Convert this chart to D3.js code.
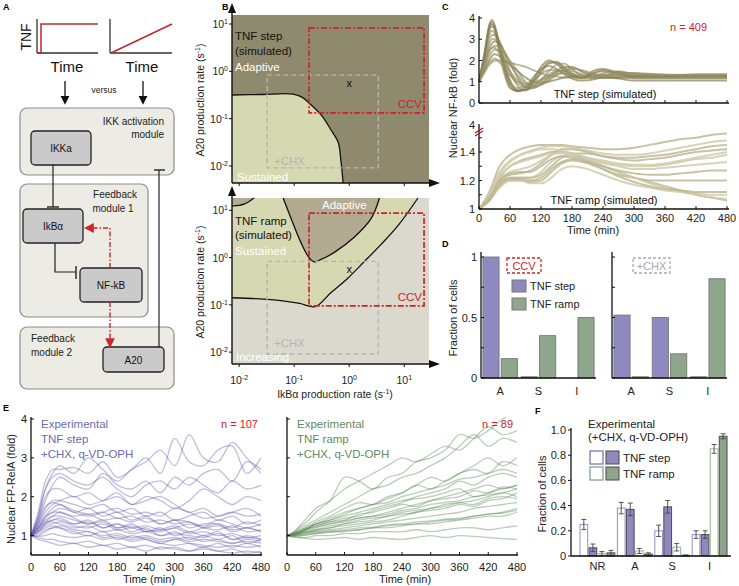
<!DOCTYPE html>
<html><head><meta charset="utf-8">
<script src="https://cdn.jsdelivr.net/npm/d3@7"></script>
<style>body{margin:0;background:#fff} svg{display:block} text{font-family:"Liberation Sans",Arial,sans-serif}</style>
</head><body><svg id="c" width="739" height="586"></svg>
<script>
// ================= DATA =================
// Panel A: TNF input profiles (normalised time, normalised dose)
const tnfStepT = [0, 0.05, 0.05, 1];
const tnfStepV = [0, 0, 1, 1];
const tnfRampT = [0, 1];
const tnfRampV = [0, 1];

// Panel B: phase-diagram boundaries, [log10 IkBa rate, log10 A20 rate]
const bTickExp = [-2, -1, 0, 1];
const stepBoundary = [[-2.13,-0.50],[-1.6,-0.49],[-1.02,-0.48],[-0.85,-0.55],[-0.73,-0.67],[-0.51,-0.92],[-0.33,-1.24],[-0.2,-1.5],[-0.15,-1.9],[-0.11,-2.36]];
const rampLower = [[-2.13,-0.85],[-1.7,-0.87],[-1.24,-0.91],[-0.9,-0.97],[-0.62,-1.04],[-0.33,-0.74],[-0.02,-0.43],[0.27,-0.09],[0.58,0.28],[0.89,0.68],[1.25,1.26]];
const rampAdaptiveV = [[-1.2,1.26],[-1.02,0.72],[-0.87,0.30],[-0.73,0.0],[-0.64,-0.09],[-0.51,-0.04],[-0.27,0.11],[0.09,0.43],[0.4,0.83],[0.55,1.26]];
const rampAdaptiveCorner = [[-2.13,1.09],[-1.91,1.13],[-1.73,1.26]];
const ccvStepX = [-0.73, 1.36], ccvStepY = [-0.88, 0.92];
const ccvRampX = [-0.73, 1.36], ccvRampY = [-1.02, 0.94];
const chxX = [-1.49, 0.53], chxY = [-2.04, -0.08];
const markX = [0, -0.24];

// Panel C: simulated nuclear NF-kB (fold)
const tStepSim = [0,10,20,25,30,40,50,60,75,90,105,120,135,150,165,180,200,220,240,270,300,360,420,480];
const stepSim = [
 [1.0,2.3,3.7,3.9,3.7,2.6,1.5,0.8,0.55,0.65,1.1,1.7,2.0,1.85,1.5,1.25,1.2,1.5,1.6,1.4,1.3,1.3,1.35,1.35],
 [1.0,2.1,3.4,3.6,3.5,2.8,1.9,1.1,0.6,0.6,0.9,1.4,1.85,1.95,1.7,1.4,1.2,1.4,1.55,1.45,1.3,1.3,1.35,1.35],
 [1.0,1.9,3.0,3.2,3.2,2.9,2.2,1.5,0.8,0.6,0.75,1.1,1.5,1.8,1.85,1.6,1.3,1.25,1.4,1.5,1.35,1.3,1.3,1.3],
 [1.0,1.7,2.6,2.8,2.9,2.8,2.4,1.9,1.2,0.75,0.7,0.9,1.2,1.5,1.7,1.7,1.45,1.3,1.3,1.45,1.4,1.3,1.3,1.3],
 [1.0,1.6,2.2,2.4,2.5,2.5,2.3,2.0,1.5,1.0,0.8,0.85,1.05,1.3,1.5,1.6,1.55,1.4,1.3,1.35,1.4,1.35,1.3,1.3],
 [1.0,1.4,1.8,1.9,2.0,2.0,1.95,1.9,1.8,1.7,1.55,1.4,1.3,1.25,1.2,1.2,1.2,1.2,1.2,1.2,1.2,1.2,1.2,1.2],
 [1.0,1.5,2.0,2.2,2.3,2.2,2.0,1.8,1.5,1.2,1.0,0.95,1.0,1.1,1.2,1.25,1.25,1.2,1.2,1.2,1.2,1.2,1.2,1.2],
 [1.0,2.0,3.2,3.4,3.3,2.5,1.6,1.0,0.7,0.8,1.05,1.35,1.55,1.55,1.4,1.25,1.15,1.2,1.3,1.25,1.15,1.15,1.15,1.15],
 [1.0,1.8,2.8,3.0,3.0,2.6,2.0,1.4,0.9,0.75,0.85,1.1,1.35,1.5,1.5,1.4,1.25,1.2,1.25,1.3,1.2,1.2,1.2,1.2],
 [1.0,2.2,3.6,3.8,3.5,2.3,1.3,0.7,0.55,0.75,1.2,1.6,1.75,1.6,1.35,1.15,1.05,1.1,1.2,1.15,1.05,1.05,1.05,1.05],
 [1.0,1.8,2.5,2.6,2.6,2.3,1.9,1.5,1.05,0.8,0.8,1.0,1.25,1.45,1.55,1.5,1.35,1.25,1.3,1.4,1.35,1.3,1.3,1.3],
 [1.0,1.5,1.9,2.0,2.1,1.9,1.6,1.3,1.0,0.9,0.95,1.1,1.25,1.35,1.4,1.35,1.25,1.2,1.25,1.3,1.25,1.25,1.25,1.25],
 [1.0,2.15,3.5,3.7,3.6,2.7,1.7,0.95,0.6,0.62,1.0,1.5,1.9,1.9,1.6,1.3,1.18,1.38,1.5,1.38,1.25,1.25,1.28,1.28],
 [1.0,1.65,2.4,2.6,2.7,2.6,2.3,1.8,1.3,0.9,0.75,0.85,1.1,1.4,1.6,1.65,1.5,1.35,1.3,1.4,1.38,1.32,1.32,1.32]
];
const tRampSim = [0,20,40,60,80,100,120,140,160,180,210,240,270,300,330,360,390,420,450,480];
const rampSim = [
 [1.0,1.12,1.3,1.38,1.42,1.44,1.45,1.45,1.45,1.44,1.43,1.42,1.42,1.43,1.45,1.47,1.49,1.5,1.52,1.53],
 [1.0,1.1,1.25,1.33,1.38,1.41,1.43,1.44,1.44,1.43,1.41,1.39,1.38,1.38,1.39,1.41,1.43,1.45,1.47,1.48],
 [1.0,1.08,1.2,1.24,1.25,1.27,1.32,1.38,1.42,1.42,1.4,1.37,1.35,1.34,1.35,1.36,1.38,1.4,1.41,1.42],
 [1.0,1.07,1.18,1.22,1.22,1.22,1.26,1.33,1.37,1.37,1.35,1.32,1.3,1.28,1.28,1.29,1.3,1.31,1.32,1.33],
 [1.0,1.06,1.16,1.2,1.2,1.19,1.2,1.26,1.32,1.34,1.32,1.28,1.24,1.22,1.2,1.2,1.2,1.2,1.2,1.2],
 [1.0,1.06,1.15,1.2,1.2,1.18,1.18,1.22,1.28,1.3,1.28,1.24,1.2,1.17,1.15,1.13,1.12,1.11,1.1,1.1],
 [1.0,1.09,1.22,1.3,1.34,1.36,1.38,1.4,1.4,1.38,1.34,1.3,1.26,1.22,1.19,1.16,1.13,1.1,1.08,1.06],
 [1.0,1.1,1.26,1.34,1.38,1.4,1.42,1.42,1.41,1.39,1.35,1.3,1.26,1.22,1.18,1.15,1.12,1.1,1.08,1.07],
 [1.0,1.07,1.19,1.22,1.22,1.22,1.24,1.3,1.36,1.39,1.39,1.37,1.36,1.36,1.37,1.38,1.4,1.42,1.44,1.45],
 [1.0,1.08,1.21,1.26,1.28,1.3,1.34,1.38,1.4,1.39,1.36,1.33,1.31,1.3,1.3,1.31,1.33,1.35,1.36,1.38],
 [1.0,1.06,1.17,1.21,1.21,1.2,1.22,1.28,1.33,1.35,1.33,1.3,1.27,1.25,1.24,1.24,1.25,1.26,1.27,1.27],
 [1.0,1.09,1.23,1.3,1.33,1.35,1.37,1.39,1.39,1.38,1.36,1.34,1.32,1.31,1.31,1.32,1.34,1.36,1.38,1.4],
 [1.0,1.08,1.2,1.25,1.26,1.26,1.3,1.35,1.37,1.36,1.33,1.28,1.23,1.19,1.16,1.14,1.13,1.12,1.12,1.12]
];

// Panel D: simulated fraction of cells
const dCats = ["A", "S", "I"];
const ccvStep = [1.0, 0.01, 0.0];
const ccvRamp = [0.16, 0.35, 0.5];
const chxStep = [0.52, 0.5, 0.01];
const chxRamp = [0.01, 0.2, 0.82];

// Panel E: experimental nuclear FP-RelA (fold)
const tExp = [0,15,30,45,60,90,120,150,180,210,240,270,300,330,360,390,420,450,480];
const expStep = [
 [1,1.6,2.4,2.7,2.7,2.75,2.6,2.9,2.5,2.7,3.0,2.6,3.5,2.9,2.8,3.2,3.3,2.6,3.0],
 [1,1.5,2.2,2.6,2.8,2.6,3.0,2.7,2.4,2.7,2.9,3.2,2.8,3.6,3.0,2.9,3.4,3.0,2.6],
 [1,1.4,1.9,2.3,2.5,2.3,2.2,2.6,2.3,2.2,2.4,2.1,2.5,2.3,2.6,2.7,2.4,2.9,2.7],
 [1,1.3,1.7,1.9,1.9,1.8,1.7,1.8,1.6,1.7,1.5,1.6,1.4,1.5,1.6,1.4,1.5,1.3,1.4],
 [1,1.2,1.5,1.7,1.8,1.6,1.7,1.5,1.6,1.4,1.5,1.3,1.4,1.2,1.3,1.3,1.1,1.2,1.1],
 [1,1.2,1.4,1.5,1.5,1.4,1.3,1.4,1.2,1.3,1.1,1.2,1.0,1.1,1.0,1.1,0.9,1.0,0.9],
 [1,1.1,1.3,1.4,1.4,1.3,1.4,1.2,1.3,1.1,1.2,1.0,1.1,0.9,1.0,0.9,1.0,0.8,0.9],
 [1,1.0,1.1,1.2,1.2,1.1,1.0,1.1,0.9,1.0,0.9,0.8,0.9,0.8,0.7,0.8,0.7,0.8,0.7],
 [1,0.95,0.9,0.9,0.85,0.8,0.85,0.75,0.8,0.7,0.75,0.65,0.7,0.6,0.65,0.6,0.55,0.6,0.55],
 [1,1.1,1.25,1.3,1.35,1.25,1.2,1.3,1.15,1.2,1.1,1.15,1.25,1.1,1.2,1.3,1.2,1.35,1.25],
 [1,1.3,1.6,1.8,1.9,2.0,1.8,1.9,2.1,1.8,2.0,1.9,1.7,1.9,2.2,2.0,1.8,2.0,1.9],
 [1,1.15,1.35,1.5,1.6,1.5,1.55,1.4,1.45,1.35,1.45,1.3,1.4,1.35,1.25,1.4,1.3,1.2,1.3],
 [1,1.05,1.15,1.2,1.25,1.15,1.1,1.0,1.05,0.95,1.0,0.9,0.95,0.85,0.9,0.85,0.8,0.85,0.8],
 [1,1.4,2.0,2.2,2.2,2.0,2.1,1.9,2.0,1.8,1.9,2.0,1.8,1.6,1.7,1.5,1.6,1.7,1.5],
 [1,1.2,1.45,1.6,1.7,1.6,1.5,1.6,1.7,1.55,1.6,1.5,1.7,1.6,1.45,1.5,1.6,1.5,1.55],
 [1,0.98,1.0,1.05,1.0,0.95,1.0,0.9,0.95,0.85,0.9,0.8,0.75,0.8,0.75,0.7,0.75,0.7,0.75],
 [1,1.25,1.5,1.6,1.6,1.45,1.3,1.35,1.2,1.25,1.15,1.1,1.2,1.05,1.1,1.0,1.05,0.95,1.0],
 [1,1.15,1.3,1.35,1.3,1.2,1.25,1.1,1.15,1.05,1.1,1.0,1.05,1.0,0.95,1.05,0.9,0.95,0.9],
 [1,1.35,1.75,1.85,1.8,1.65,1.55,1.6,1.45,1.5,1.35,1.4,1.3,1.35,1.2,1.25,1.15,1.2,1.1],
 [1,1.1,1.2,1.25,1.2,1.05,1.1,0.95,1.0,0.9,0.95,0.85,0.9,0.95,0.85,0.9,0.8,0.9,0.85],
 [1,1.5,2.2,2.5,2.6,2.4,2.3,2.5,2.2,2.0,2.3,2.4,2.2,2.5,2.3,2.1,2.4,2.2,2.3],
 [1,0.9,0.85,0.8,0.75,0.8,0.7,0.75,0.65,0.7,0.6,0.7,0.65,0.6,0.7,0.6,0.65,0.55,0.6],
 [1,1.2,1.35,1.4,1.45,1.3,1.35,1.2,1.3,1.2,1.25,1.15,1.2,1.3,1.2,1.15,1.25,1.1,1.15]
];
const expRamp = [
 [1,1.1,1.25,1.4,1.6,1.9,2.5,2.4,2.2,2.5,2.6,2.9,3.0,3.2,3.6,3.5,3.7,4.0,4.2],
 [1,1.08,1.2,1.3,1.4,1.6,1.8,2.0,2.2,2.3,2.5,2.6,2.8,3.0,3.3,3.6,3.3,3.5,3.4],
 [1,1.05,1.15,1.25,1.3,1.4,1.55,1.7,1.8,2.0,2.1,2.3,2.5,2.4,2.6,2.8,3.0,2.8,3.0],
 [1,1.05,1.1,1.2,1.25,1.35,1.45,1.5,1.65,1.75,1.85,2.0,2.1,2.2,2.4,2.3,2.5,2.6,2.5],
 [1,1.03,1.08,1.15,1.2,1.3,1.35,1.45,1.5,1.6,1.7,1.8,1.9,2.0,2.1,2.2,2.3,2.2,2.3],
 [1,1.02,1.06,1.1,1.15,1.2,1.3,1.35,1.4,1.5,1.55,1.6,1.7,1.75,1.85,1.9,2.0,2.1,2.0],
 [1,1.0,1.04,1.08,1.1,1.15,1.2,1.25,1.3,1.35,1.4,1.45,1.5,1.55,1.6,1.7,1.75,1.8,1.85],
 [1,0.98,1.0,1.02,1.05,1.1,1.1,1.15,1.2,1.2,1.25,1.3,1.3,1.35,1.4,1.45,1.5,1.5,1.6],
 [1,0.97,0.95,0.96,1.0,1.0,1.05,1.05,1.1,1.1,1.1,1.15,1.1,1.15,1.2,1.2,1.15,1.2,1.25],
 [1,0.96,0.94,0.92,0.9,0.92,0.95,0.9,0.95,0.92,0.9,0.95,1.0,0.95,1.0,0.98,0.95,0.92,0.9],
 [1,1.1,1.3,1.5,1.7,1.9,2.2,2.4,2.6,2.8,3.0,2.9,3.1,3.3,3.2,3.5,3.8,3.6,3.7],
 [1,1.04,1.12,1.2,1.3,1.4,1.5,1.6,1.7,1.8,1.9,1.95,2.0,2.1,2.2,2.0,2.1,2.2,2.3],
 [1,1.02,1.05,1.1,1.12,1.2,1.25,1.3,1.35,1.4,1.5,1.6,1.65,1.7,1.8,1.75,1.9,1.95,2.1],
 [1,1.06,1.15,1.22,1.35,1.5,1.7,1.85,1.8,1.95,2.1,2.3,2.2,2.4,2.6,2.7,2.6,2.9,2.8],
 [1,1.03,1.1,1.18,1.25,1.35,1.4,1.55,1.6,1.7,1.8,1.75,1.9,1.95,2.0,2.15,2.1,2.25,2.2],
 [1,1.01,1.03,1.06,1.08,1.12,1.15,1.2,1.22,1.28,1.3,1.35,1.38,1.42,1.45,1.5,1.55,1.58,1.65],
 [1,1.04,1.1,1.18,1.22,1.3,1.38,1.45,1.5,1.55,1.65,1.7,1.8,1.85,1.9,2.0,2.05,2.1,2.2],
 [1,1.06,1.14,1.2,1.3,1.45,1.6,1.7,1.8,1.85,2.0,2.1,2.2,2.3,2.45,2.5,2.6,2.7,2.6],
 [1,0.99,1.0,1.03,1.05,1.08,1.12,1.15,1.2,1.25,1.28,1.3,1.35,1.4,1.42,1.5,1.55,1.6,1.7],
 [1,1.02,1.08,1.12,1.15,1.25,1.3,1.4,1.45,1.5,1.6,1.65,1.7,1.8,1.85,1.8,1.95,2.0,1.95]
];

// Panel F: experimental fraction of cells
const fCats = ["NR", "A", "S", "I"];
const fStepOpen = [0.25, 0.38, 0.20, 0.17], fStepOpenErr = [0.04, 0.045, 0.045, 0.03];
const fStepFill = [0.065, 0.37, 0.39, 0.17], fStepFillErr = [0.03, 0.05, 0.05, 0.03];
const fRampOpen = [0.02, 0.04, 0.07, 0.85], fRampOpenErr = [0.015, 0.02, 0.03, 0.035];
const fRampFill = [0.025, 0.015, 0.005, 0.95], fRampFillErr = [0.02, 0.01, 0.003, 0.02];

// ================= DRAWING =================
const svg = d3.select('#c');
const RED = '#d2232a';
function txt(g, x, y, s, o = {}) {
  const t = g.append('text').attr('x', x).attr('y', y).text(s)
    .attr('font-size', o.size || 11).attr('fill', o.fill || '#222')
    .attr('text-anchor', o.anchor || 'start');
  if (o.weight) t.attr('font-weight', o.weight);
  if (o.rotate) t.attr('transform', `rotate(${o.rotate},${x},${y})`);
  return t;
}
function line(g, x1, y1, x2, y2, c = '#222', w = 1.3) {
  return g.append('line').attr('x1', x1).attr('y1', y1).attr('x2', x2).attr('y2', y2).attr('stroke', c).attr('stroke-width', w);
}
const defs = svg.append('defs');
function marker(id, col) {
  defs.append('marker').attr('id', id).attr('viewBox', '0 0 10 10').attr('refX', 8).attr('refY', 5)
    .attr('markerWidth', 7).attr('markerHeight', 7).attr('orient', 'auto-start-reverse')
    .append('path').attr('d', 'M0,0L10,5L0,10Z').attr('fill', col);
}
marker('arrK', '#111'); marker('arrR', RED);

// panel letters
[['A',3,10],['B',222,10],['C',442,10],['D',442,247],['E',3,411],['F',535,414]].forEach(d => txt(svg, d[1], d[2], d[0], {size: 9, weight: 'bold', fill: '#000'}));

// ---------- Panel A ----------
(function () {
  const g = svg.append('g');
  const ya = d3.scaleLinear().domain([0, 1]).range([53, 24]);
  const xa1 = d3.scaleLinear().domain([0, 1]).range([38, 98]);
  const xa2 = d3.scaleLinear().domain([0, 1]).range([111, 172]);
  line(g, 37, 19, 37, 53, '#333'); line(g, 37, 53, 98, 53, '#333');
  line(g, 110, 19, 110, 53, '#333'); line(g, 110, 53, 172, 53, '#333');
  g.append('path').attr('d', d3.line().x((d, i) => xa1(tnfStepT[i])).y(d => ya(d))(tnfStepV)).attr('fill', 'none').attr('stroke', '#c1272d').attr('stroke-width', 1.5);
  g.append('path').attr('d', d3.line().x((d, i) => xa2(tnfRampT[i])).y(d => ya(d))(tnfRampV)).attr('fill', 'none').attr('stroke', '#c1272d').attr('stroke-width', 1.5);
  txt(g, 31, 37, 'TNF', {size: 14, anchor: 'middle', rotate: -90, fill: '#111'});
  txt(g, 67, 72, 'Time', {size: 15, anchor: 'middle', fill: '#111'});
  txt(g, 142, 72, 'Time', {size: 15, anchor: 'middle', fill: '#111'});
  line(g, 65, 81, 65, 103, '#111', 1.3).attr('marker-end', 'url(#arrK)');
  line(g, 143, 81, 143, 103, '#111', 1.3).attr('marker-end', 'url(#arrK)');
  txt(g, 104, 93, 'versus', {size: 8.5, anchor: 'middle', fill: '#222'});

  const mod = (x, y, w, h) => g.append('rect').attr('x', x).attr('y', y).attr('width', w).attr('height', h).attr('rx', 7).attr('fill', '#ecebe4').attr('stroke', '#8d8d8d').attr('stroke-width', 1.2);
  const box = (x, y, w, h, s) => { g.append('rect').attr('x', x).attr('y', y).attr('width', w).attr('height', h).attr('rx', 4).attr('fill', '#cacaca').attr('stroke', '#222').attr('stroke-width', 1.3); txt(g, x + w / 2, y + h / 2 + 4, s, {size: 10, anchor: 'middle', fill: '#111'}); };
  mod(20, 108, 154, 67); mod(20, 184, 128, 133); mod(20, 327, 154, 62);
  txt(g, 164, 125, 'IKK activation', {size: 10, anchor: 'end'});
  txt(g, 164, 138, 'module', {size: 10, anchor: 'end'});
  txt(g, 115, 198, 'Feedback', {size: 10, anchor: 'middle'});
  txt(g, 113, 212, 'module 1', {size: 10, anchor: 'middle'});
  txt(g, 31, 342, 'Feedback', {size: 10});
  txt(g, 31, 356, 'module 2', {size: 10});
  box(31, 131, 60, 34, 'IKKa'); box(23, 209, 60, 34, 'IkBα'); box(80, 268, 62, 34, 'NF-kB'); box(103, 347, 61, 25, 'A20');
  // inhibitions
  line(g, 53, 165, 53, 207, '#222', 1.2); line(g, 47, 207, 59, 207, '#222', 1.4);
  g.append('path').attr('d', 'M55,243V272H76').attr('fill', 'none').attr('stroke', '#222').attr('stroke-width', 1.2);
  line(g, 76, 266, 76, 279, '#222', 1.4);
  line(g, 159, 347, 159, 170, '#222', 1.2); line(g, 154, 170, 165, 170, '#222', 1.4);
  // feedback arrows
  g.append('path').attr('d', 'M110,268V228H86').attr('fill', 'none').attr('stroke', RED).attr('stroke-width', 1.4).attr('stroke-dasharray', '5,2,1.5,2').attr('marker-end', 'url(#arrR)');
  g.append('path').attr('d', 'M110,302V346').attr('fill', 'none').attr('stroke', RED).attr('stroke-width', 1.4).attr('stroke-dasharray', '5,2,1.5,2').attr('marker-end', 'url(#arrR)');
})();

// ---------- Panel B ----------
(function () {
  const g = svg.append('g');
  const x = d3.scaleLog().domain([10 ** -2.13, 10 ** 1.45]).range([232, 429]);
  const yT = d3.scaleLog().domain([10 ** -2.36, 10 ** 1.19]).range([183, 15]);
  const yB = d3.scaleLog().domain([10 ** -2.23, 10 ** 1.26]).range([363, 198]);
  const X = v => x(10 ** v);
  const lg = y => d3.line().x(d => X(d[0])).y(d => y(10 ** d[1])).curve(d3.curveCatmullRom);
  const xmin = -2.13, xmax = 1.45;

  function sup(px, py, e, anchor) {
    const t = g.append('text').attr('x', px).attr('y', py).attr('font-size', 10.5).attr('text-anchor', anchor).attr('fill', '#222');
    t.append('tspan').text('10');
    t.append('tspan').text(e).attr('font-size', 7).attr('dy', -4);
  }
  function rectBox(y, xr, yr, col, dash, w) {
    g.append('rect').attr('x', X(xr[0])).attr('y', y(10 ** yr[1])).attr('width', X(xr[1]) - X(xr[0]))
      .attr('height', y(10 ** yr[0]) - y(10 ** yr[1])).attr('fill', 'none').attr('stroke', col).attr('stroke-width', w).attr('stroke-dasharray', dash);
  }
  function axes(y, yb, ytop) {
    line(g, 232, yb, 232, ytop + 8, '#111', 1.4);
    g.append('path').attr('d', `M228,${ytop + 10}L232,${ytop}L236,${ytop + 10}Z`).attr('fill', '#111');
    line(g, 232, yb, 430, yb, '#111', 1.4);
    g.append('path').attr('d', `M429,${yb - 4}L440,${yb}L429,${yb + 4}Z`).attr('fill', '#111');
    bTickExp.forEach(e => { line(g, 229, y(10 ** e), 232, y(10 ** e), '#111', 1); sup(228, y(10 ** e) + 4, e === 0 ? '0' : String(e), 'end'); });
    bTickExp.forEach(e => line(g, X(e), yb, X(e), yb + 3, '#111', 1));
  }

  // top: TNF step
  g.append('rect').attr('x', 232).attr('y', 15).attr('width', X(xmax) - 232).attr('height', 168).attr('fill', '#8f896e');
  g.append('path').attr('d', lg(yT)(stepBoundary) + `L${X(xmin)},${yT(10 ** -2.36)}Z`).attr('fill', '#d5d8b0');
  g.append('path').attr('d', lg(yT)(stepBoundary)).attr('fill', 'none').attr('stroke', '#111').attr('stroke-width', 1.3);
  rectBox(yT, chxX, chxY, '#b4b4b4', '5,3', 1.4);
  rectBox(yT, ccvStepX, ccvStepY, RED, '6,2,2,2', 1.7);
  txt(g, X(markX[0]), yT(10 ** markX[1]) + 4, 'x', {size: 11, anchor: 'middle', fill: '#111'});
  txt(g, 235, 40, 'TNF step', {size: 11.5, fill: '#111'});
  txt(g, 235, 55, '(simulated)', {size: 11.5, fill: '#111'});
  txt(g, 235, 71, 'Adaptive', {size: 11.5, fill: '#fff'});
  txt(g, 237, 181, 'Sustained', {size: 11.5, fill: '#fff'});
  txt(g, 422, 108, 'CCV', {size: 11.5, fill: RED, anchor: 'end'});
  txt(g, 274, 165, '+CHX', {size: 11.5, fill: '#b4b4b4'});
  axes(yT, 183, 3);

  // bottom: TNF ramp
  g.append('rect').attr('x', 232).attr('y', 198).attr('width', X(xmax) - 232).attr('height', 165).attr('fill', '#dbd8ce');
  g.append('path').attr('d', lg(yB)(rampLower) + `L${X(xmin)},${yB(10 ** 1.26)}Z`).attr('fill', '#d5d8b0');
  g.append('path').attr('d', lg(yB)(rampAdaptiveV) + 'Z').attr('fill', '#b2aa91');
  g.append('path').attr('d', lg(yB)(rampAdaptiveCorner) + `L${X(xmin)},${yB(10 ** 1.26)}Z`).attr('fill', '#b2aa91');
  [rampLower, rampAdaptiveV, rampAdaptiveCorner].forEach(b => g.append('path').attr('d', lg(yB)(b)).attr('fill', 'none').attr('stroke', '#111').attr('stroke-width', 1.3));
  rectBox(yB, chxX, chxY, '#b4b4b4', '5,3', 1.4);
  rectBox(yB, ccvRampX, ccvRampY, RED, '6,2,2,2', 1.7);
  txt(g, X(markX[0]), yB(10 ** markX[1]) + 4, 'x', {size: 11, anchor: 'middle', fill: '#111'});
  txt(g, 322, 209, 'Adaptive', {size: 11.5, fill: '#fff'});
  txt(g, 235, 225, 'TNF ramp', {size: 11.5, fill: '#111'});
  txt(g, 235, 239, '(simulated)', {size: 11.5, fill: '#111'});
  txt(g, 235, 255, 'Sustained', {size: 11.5, fill: '#fff'});
  txt(g, 422, 301, 'CCV', {size: 11.5, fill: RED, anchor: 'end'});
  txt(g, 274, 347, '+CHX', {size: 11.5, fill: '#b4b4b4'});
  txt(g, 236, 361, 'Increasing', {size: 11.5, fill: '#fff'});
  axes(yB, 364, 186);
  bTickExp.forEach(e => sup(X(e), 384, e === 0 ? '0' : String(e), 'middle'));

  // axis titles
  [[100], [282]].forEach(d => {
    const t = g.append('text').attr('transform', `translate(204,${d[0]}) rotate(-90)`).attr('text-anchor', 'middle').attr('font-size', 10.5).attr('fill', '#222');
    t.append('tspan').text('A20 production rate (s');
    t.append('tspan').text('-1').attr('font-size', 7).attr('dy', -4);
    t.append('tspan').text(')').attr('dy', 4);
  });
  const t = g.append('text').attr('x', 335).attr('y', 398).attr('text-anchor', 'middle').attr('font-size', 10.5).attr('fill', '#222');
  t.append('tspan').text('IkBα production rate (s');
  t.append('tspan').text('-1').attr('font-size', 7).attr('dy', -4);
  t.append('tspan').text(')').attr('dy', 4);
})();

// ---------- Panel C ----------
(function () {
  const g = svg.append('g');
  const x = d3.scaleLinear().domain([0, 480]).range([479, 727]);
  const yT = d3.scaleLinear().domain([0, 4]).range([103, 18]);
  const yB = d3.scaleLinear().domain([1, 1.4]).range([209, 152]);
  const mk = (t, y) => d3.line().x((d, i) => x(t[i])).y(d => y(d)).curve(d3.curveMonotoneX);
  stepSim.forEach((s, k) => g.append('path').attr('d', mk(tStepSim, yT)(s)).attr('fill', 'none')
    .attr('stroke', k % 3 === 0 ? '#857e53' : '#9a9469').attr('stroke-width', 1.8).attr('stroke-opacity', 0.7));
  rampSim.forEach((s, k) => g.append('path').attr('d', mk(tRampSim, yB)(s)).attr('fill', 'none')
    .attr('stroke', k % 2 === 0 ? '#bdb893' : '#cfcbab').attr('stroke-width', 2.0).attr('stroke-opacity', 0.85));
  // axes top
  line(g, 479, 103, 479, 16, '#111', 1.3); line(g, 479, 103, 729, 103, '#111', 1.3);
  [0, 1, 2, 3, 4].forEach(v => { line(g, 479, yT(v), 482, yT(v), '#111', 1); txt(g, 475, yT(v) + 4, String(v), {size: 11, anchor: 'end'}); });
  d3.range(0, 481, 60).forEach(v => line(g, x(v), 103, x(v), 100, '#111', 1));
  // axes bottom
  line(g, 479, 209, 479, 124, '#111', 1.3); line(g, 479, 209, 729, 209, '#111', 1.3);
  [1.0, 1.1, 1.2, 1.3, 1.4, 1.5].forEach(v => line(g, 479, yB(v), 482, yB(v), '#111', 1));
  [1, 1.2, 1.4].forEach(v => txt(g, 475, yB(v) + 4, String(v), {size: 11, anchor: 'end'}));
  txt(g, 475, 129, '4', {size: 11, anchor: 'end'});
  line(g, 475, 133, 483, 128, '#a01e22', 1.2); line(g, 475, 136, 483, 131, '#a01e22', 1.2);
  d3.range(0, 481, 60).forEach(v => { line(g, x(v), 209, x(v), 206, '#111', 1); txt(g, x(v), 222, String(v), {size: 11, anchor: 'middle'}); });
  txt(g, 593, 234, 'Time (min)', {size: 11, anchor: 'middle'});
  txt(g, 457, 108, 'Nuclear NF-kB (fold)', {size: 11, anchor: 'middle', rotate: -90});
  txt(g, 670, 31, 'n = 409', {size: 11, fill: RED});
  txt(g, 605, 98, 'TNF step (simulated)', {size: 11, anchor: 'middle', fill: '#111'});
  txt(g, 604, 204, 'TNF ramp (simulated)', {size: 11, anchor: 'middle', fill: '#111'});
})();

// ---------- Panel D ----------
(function () {
  const g = svg.append('g');
  const y = d3.scaleLinear().domain([0, 1]).range([378, 257]);
  function sub(x0, x1, stepV, rampV, showLabels) {
    const xb = d3.scaleBand().domain(dCats).range([x0, x1]).paddingInner(0.1).paddingOuter(0.05);
    const xs = d3.scaleBand().domain(['step', 'ramp']).range([0, xb.bandwidth()]).paddingInner(0.12);
    dCats.forEach((c, i) => {
      [['step', stepV[i], '#8e8abf'], ['ramp', rampV[i], '#8ea68b']].forEach(b => {
        g.append('rect').attr('x', xb(c) + xs(b[0])).attr('y', y(b[1])).attr('width', xs.bandwidth())
          .attr('height', y(0) - y(b[1])).attr('fill', b[2]).attr('stroke', '#777').attr('stroke-width', 0.9);
      });
      txt(g, xb(c) + xb.bandwidth() / 2, 395, c, {size: 11, anchor: 'middle'});
    });
    line(g, x0, 378, x0, 252, '#111', 1.3); line(g, x0, 378, x1, 378, '#111', 1.3);
    [0, 0.25, 0.5, 0.75, 1].forEach(v => line(g, x0, y(v), x0 + 3, y(v), '#111', 1));
    if (showLabels) [[0, '0'], [0.5, '0.5'], [1, '1']].forEach(d => txt(g, x0 - 4, y(d[0]) + 4, d[1], {size: 11, anchor: 'end'}));
  }
  sub(481, 596, ccvStep, ccvRamp, true);
  sub(612, 727, chxStep, chxRamp, false);
  txt(g, 457, 318, 'Fraction of cells', {size: 11, anchor: 'middle', rotate: -90});
  g.append('rect').attr('x', 507).attr('y', 258).attr('width', 34).attr('height', 15).attr('fill', 'none').attr('stroke', RED).attr('stroke-width', 1.3).attr('stroke-dasharray', '3,2');
  txt(g, 524, 270, 'CCV', {size: 11, anchor: 'middle', fill: RED});
  g.append('rect').attr('x', 633).attr('y', 258).attr('width', 37).attr('height', 15).attr('fill', 'none').attr('stroke', '#aaa').attr('stroke-width', 1.3).attr('stroke-dasharray', '3,2');
  txt(g, 651.5, 270, '+CHX', {size: 11, anchor: 'middle', fill: '#aaa'});
  g.append('rect').attr('x', 512).attr('y', 280).attr('width', 14).attr('height', 12).attr('fill', '#8e8abf').attr('stroke', '#777');
  g.append('rect').attr('x', 512).attr('y', 298).attr('width', 14).attr('height', 12).attr('fill', '#8ea68b').attr('stroke', '#777');
  txt(g, 530, 290, 'TNF step', {size: 11});
  txt(g, 530, 308, 'TNF ramp', {size: 11});
})();

// ---------- Panel E ----------
(function () {
  const g = svg.append('g');
  const y = d3.scaleLinear().domain([0.5, 4]).range([555, 419]);
  defs.append('clipPath').attr('id', 'clipE').append('rect').attr('x', 0).attr('y', 417).attr('width', 739).attr('height', 138);
  function sub(x0, x1, series, col, labels) {
    const x = d3.scaleLinear().domain([0, 480]).range([x0, x1]);
    const ln = d3.line().x((d, i) => x(tExp[i])).y(d => y(d)).curve(d3.curveCatmullRom);
    const gg = g.append('g').attr('clip-path', 'url(#clipE)');
    series.forEach(s => gg.append('path').attr('d', ln(s)).attr('fill', 'none').attr('stroke', col).attr('stroke-width', 1.3).attr('stroke-opacity', 0.42));
    line(g, x0, 555, x0, 417, '#111', 1.3); line(g, x0, 555, x1 + 1, 555, '#111', 1.3);
    [1, 2, 3, 4].forEach(v => { line(g, x0, y(v), x0 + 3, y(v), '#111', 1); if (labels) txt(g, x0 - 4, y(v) + 4, String(v), {size: 11, anchor: 'end'}); });
    d3.range(0, 481, 60).forEach(v => { line(g, x(v), 555, x(v), 552, '#111', 1); txt(g, x(v), 571, String(v), {size: 11, anchor: 'middle'}); });
    txt(g, (x0 + x1) / 2 + 3, 583, 'Time (min)', {size: 11, anchor: 'middle'});
  }
  sub(31, 261, expStep, '#6a62ad', true);
  sub(287, 517, expRamp, '#5b8a58', false);
  txt(g, 15, 489, 'Nuclear FP-RelA (fold)', {size: 11, anchor: 'middle', rotate: -90});
  [['Experimental', 428], ['TNF step', 443], ['+CHX, q-VD-OPH', 458]].forEach(d => txt(g, 41, d[1], d[0], {size: 11.5, fill: '#6f68b0'}));
  [['Experimental', 428], ['TNF ramp', 443], ['+CHX, q-VD-OPH', 458]].forEach(d => txt(g, 297, d[1], d[0], {size: 11.5, fill: '#5f8c5c'}));
  txt(g, 258, 428, 'n = 107', {size: 11, fill: RED, anchor: 'end'});
  txt(g, 513, 428, 'n = 89', {size: 11, fill: RED, anchor: 'end'});
})();

// ---------- Panel F ----------
(function () {
  const g = svg.append('g');
  const y = d3.scaleLinear().domain([0, 1]).range([556, 430]);
  const xb = d3.scaleBand().domain(fCats).range([580, 727]).paddingInner(0.07).paddingOuter(0.0);
  const keys = ['so', 'sf', 'ro', 'rf'];
  const xs = d3.scaleBand().domain(keys).range([0, xb.bandwidth()]).paddingInner(0.15);
  const sets = [
    ['so', fStepOpen, fStepOpenErr, '#fff', '#9d97cc'],
    ['sf', fStepFill, fStepFillErr, '#8f89c0', '#555'],
    ['ro', fRampOpen, fRampOpenErr, '#fff', '#9cc09a'],
    ['rf', fRampFill, fRampFillErr, '#8fa38d', '#555']
  ];
  fCats.forEach((c, i) => {
    sets.forEach(s => {
      const bx = xb(c) + xs(s[0]), bw = xs.bandwidth(), v = s[1][i], e = s[2][i];
      g.append('rect').attr('x', bx).attr('y', y(v)).attr('width', bw).attr('height', y(0) - y(v))
        .attr('fill', s[3]).attr('stroke', s[4]).attr('stroke-width', 1.1);
      const cx = bx + bw / 2;
      line(g, cx, y(v + e), cx, y(Math.max(0, v - e)), '#444', 0.9);
      line(g, cx - 2.5, y(v + e), cx + 2.5, y(v + e), '#444', 0.9);
      line(g, cx - 2.5, y(Math.max(0, v - e)), cx + 2.5, y(Math.max(0, v - e)), '#444', 0.9);
    });
    txt(g, xb(c) + xb.bandwidth() / 2, 570, c, {size: 11, anchor: 'middle'});
  });
  line(g, 571, 556, 571, 428, '#111', 1.3); line(g, 571, 556, 731, 556, '#111', 1.3);
  [0, 0.2, 0.4, 0.6, 0.8, 1.0].forEach(v => { line(g, 568, y(v), 571, y(v), '#111', 1); txt(g, 566, y(v) + 4, v === 0 ? '0' : v.toFixed(1), {size: 11, anchor: 'end'}); });
  txt(g, 546, 494, 'Fraction of cells', {size: 11, anchor: 'middle', rotate: -90});
  txt(g, 588, 428, 'Experimental', {size: 11.5});
  txt(g, 588, 441, '(+CHX, q-VD-OPH)', {size: 11.5});
  g.append('rect').attr('x', 590).attr('y', 451).attr('width', 13).attr('height', 13).attr('fill', '#fff').attr('stroke', '#7d76bd').attr('stroke-width', 1.3);
  g.append('rect').attr('x', 606).attr('y', 451).attr('width', 13).attr('height', 13).attr('fill', '#8f89c0').attr('stroke', '#555').attr('stroke-width', 1.1);
  g.append('rect').attr('x', 590).attr('y', 467).attr('width', 13).attr('height', 13).attr('fill', '#fff').attr('stroke', '#7fa87c').attr('stroke-width', 1.3);
  g.append('rect').attr('x', 606).attr('y', 467).attr('width', 13).attr('height', 13).attr('fill', '#8fa38d').attr('stroke', '#555').attr('stroke-width', 1.1);
  txt(g, 623, 462, 'TNF step', {size: 11.5});
  txt(g, 623, 478, 'TNF ramp', {size: 11.5});
})();
</script>
</body></html>
